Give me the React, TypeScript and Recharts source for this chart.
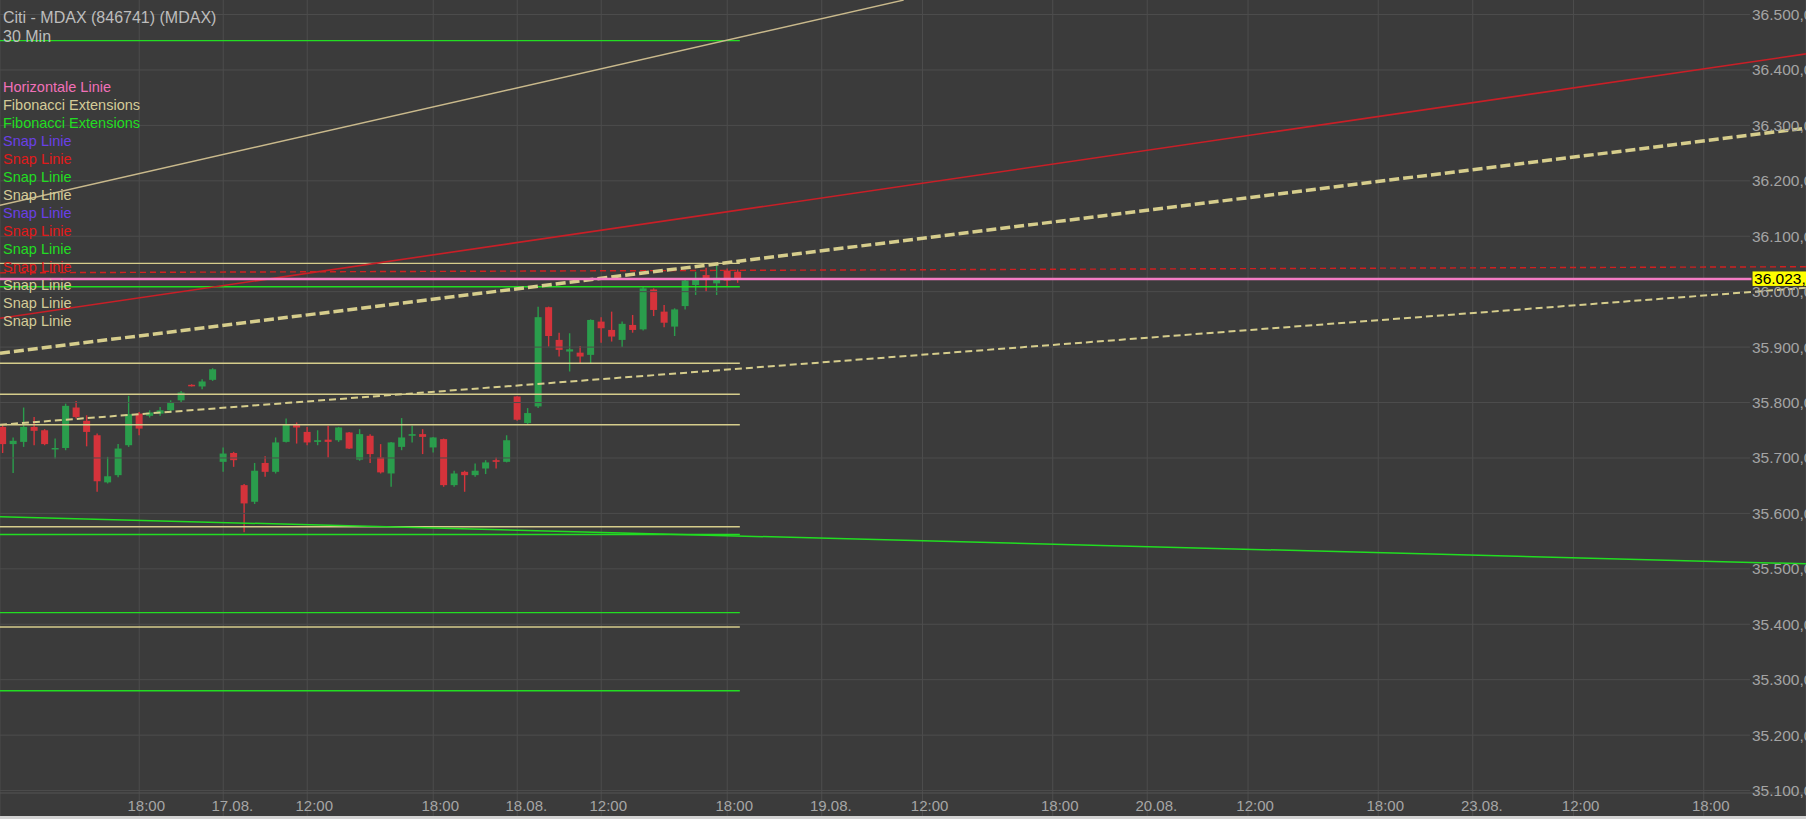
import React from "react"
import { ComposedChart, Bar, Line, XAxis, YAxis, CartesianGrid, ReferenceLine } from "recharts"

// 30-min candles, slot 0 = 16.08. 11:30, slot 21 = 17.08. 08:00, slot 49 = 18.08. 08:00
const opens = [
  35756, 35725, 35729, 35756, 35750, 35716, 35718, 35791, 35767, 35741, 35656, 35669, 35723, 35780, 35776, 35780, 35786, 35804, 35832, 35829, 35841,
  35693, 35709, 35651, 35621, 35691, 35675, 35729, 35761, 35747, 35729, 35733, 35732, 35746, 35697, 35740, 35701, 35672, 35720, 35740, 35743, 35719,
  35734, 35651, 35675, 35669, 35681, 35696, 35693,
  35811, 35763, 35793, 35972, 35913, 35892, 35890, 35886, 35946, 35931, 35913, 35940, 35932, 36004, 35964, 35937, 35974, 36012, 36030, 36015, 36038, 36036,
]
const highs = [
  35760, 35737, 35791, 35774, 35752, 35735, 35798, 35803, 35777, 35744, 35702, 35725, 35812, 35783, 35786, 35792, 35804, 35821, 35833, 35842, 35862,
  35719, 35711, 35653, 35691, 35703, 35737, 35771, 35764, 35756, 35750, 35758, 35756, 35747, 35752, 35743, 35725, 35729, 35772, 35758, 35752, 35738,
  35735, 35677, 35677, 35690, 35696, 35701, 35741,
  35812, 35790, 35973, 35973, 35926, 35925, 35902, 35950, 35954, 35964, 35946, 35958, 36009, 36006, 35976, 35970, 36022, 36036, 36043, 36048, 36042, 36040,
]
const lows = [
  35709, 35673, 35720, 35723, 35723, 35699, 35714, 35771, 35721, 35639, 35654, 35665, 35720, 35741, 35773, 35776, 35782, 35801, 35829, 35824, 35839,
  35675, 35684, 35566, 35617, 35666, 35672, 35728, 35726, 35723, 35723, 35701, 35729, 35716, 35695, 35691, 35672, 35648, 35714, 35728, 35707, 35710,
  35648, 35648, 35639, 35666, 35671, 35681, 35692,
  35767, 35760, 35790, 35901, 35883, 35856, 35871, 35871, 35908, 35910, 35900, 35926, 35930, 35956, 35936, 35920, 35968, 35994, 36000, 35994, 36010, 36016,
]
const closes = [
  35725, 35731, 35756, 35749, 35725, 35718, 35794, 35774, 35747, 35658, 35667, 35717, 35779, 35753, 35782, 35786, 35801, 35818, 35830, 35838, 35860,
  35708, 35696, 35618, 35677, 35675, 35728, 35761, 35755, 35728, 35732, 35729, 35755, 35717, 35743, 35707, 35674, 35728, 35737, 35743, 35738, 35737,
  35651, 35672, 35669, 35677, 35692, 35693, 35732,
  35769, 35781, 35954, 35920, 35895, 35896, 35883, 35949, 35934, 35919, 35942, 35931, 36006, 35967, 35944, 35968, 36020, 36022, 36022, 36025, 36020, 36023,
]

const xTicks = [13, 21, 29, 41, 49, 57, 69, 78, 87.6, 100, 109, 118.6, 131, 140, 149.6, 162]
const xTickLabels = [
  "18:00", "17.08.", "12:00", "18:00", "18.08.", "12:00", "18:00", "19.08.",
  "12:00", "18:00", "20.08.", "12:00", "18:00", "23.08.", "12:00", "18:00",
]
const priceTicks = [35100, 35200, 35300, 35400, 35500, 35600, 35700, 35800, 35900, 36000, 36100, 36200, 36300, 36400, 36500]

// drawings
const lastPrice = 36023
const fibKhakiLevels = [36051, 35871, 35815, 35760, 35576, 35395]
const fibGreenLevels = [36453, 36009, 35562, 35421, 35280]
const fibRange = [-0.26, 70.2]
const snapTan = [[-0.26, 36156], [85.8, 36526]]
const snapRed = [[-0.26, 35952], [171.74, 36429]]
const snapRedDashed = [[-0.26, 36034], [171.74, 36045]]
const snapDashedUpper = [[-0.26, 35889], [171.74, 36295]]
const snapDashedLower = [[-0.26, 35760], [171.74, 36007]]
const snapGreen = [[-0.26, 35594], [171.74, 35509]]

const X_DOMAIN = [-0.26, 171.74]
const Y_DOMAIN = [35054.1, 36526.2]
const GRID_END = 166.4
const LABEL_START = 166.6
const AXIS_FLOOR = 35095.6

const BG = "#3b3b3b"
const GRID = "#4d4d4d"
const UP = "#2a9d4c"
const DOWN = "#d5333b"
const KHAKI = "#d6cd8c"
const TAN = "#c9b98c"
const GREEN = "#22dd22"
const RED = "#c81f27"
const PINK = "#f47cc4"
const FONT = "'Liberation Sans', Arial, sans-serif"
const BODY_W = 7

const candles = opens.map((o, i) => ({ i, o, h: highs[i], l: lows[i], c: closes[i], range: [lows[i], highs[i]] }))
const seg = (pts: number[][]) => pts.map(([i, v]) => ({ i, v }))
const flat = (v: number) => [{ i: fibRange[0], v }, { i: fibRange[1], v }]

const fmt = (v: number) => `${Math.floor(v / 1000)}.${String(v % 1000).padStart(3, "0")},00`

const Candle = (props: any) => {
  const { x, y, width, height, payload } = props
  const { o, h, l, c } = payload
  const color = c >= o ? UP : DOWN
  const k = h === l ? 0 : height / (h - l)
  const top = y + (h - Math.max(o, c)) * k
  const bot = y + (h - Math.min(o, c)) * k
  const cx = x + width / 2
  return (
    <g>
      <line x1={cx} x2={cx} y1={y} y2={y + height} stroke={color} strokeWidth={1.4} />
      <rect x={cx - BODY_W / 2} y={top} width={BODY_W} height={Math.max(1.5, bot - top)} fill={color} />
    </g>
  )
}

const XTick = (props: any) => {
  const { x, payload } = props
  const idx = xTicks.indexOf(payload.value)
  return (
    <text x={x - 11.7} y={810.5} fill="#a6a6a6" fontSize={15} fontFamily={FONT}>
      {xTickLabels[idx]}
    </text>
  )
}

const YTick = (props: any) => {
  const { y, payload } = props
  return (
    <text x={1752} y={y + 5.5} fill="#a4a4a4" fontSize={15.5} fontFamily={FONT}>
      {fmt(payload.value)}
    </text>
  )
}

const PriceBox = (props: any) => {
  const vb = props.viewBox || {}
  const x = vb.x + vb.width
  const y = vb.y
  return (
    <g>
      <rect x={x} y={y - 8} width={60} height={15.5} fill="#ffff00" stroke="#333" strokeWidth={1} />
      <text x={x + 2} y={y + 5} fill="#000" fontSize={15.5} fontFamily={FONT}>
        {fmt(lastPrice)}
      </text>
    </g>
  )
}

const legendRows = [
  { t: "Horizontale Linie", c: "#f070b8" },
  { t: "Fibonacci Extensions", c: "#d4cb98" },
  { t: "Fibonacci Extensions", c: "#22dd22" },
  { t: "Snap Linie", c: "#6a40e6" },
  { t: "Snap Linie", c: "#e01a1a" },
  { t: "Snap Linie", c: "#22dd22" },
  { t: "Snap Linie", c: "#d4cb98" },
  { t: "Snap Linie", c: "#6a40e6" },
  { t: "Snap Linie", c: "#e01a1a" },
  { t: "Snap Linie", c: "#22dd22" },
  { t: "Snap Linie", c: "#e01a1a" },
  { t: "Snap Linie", c: "#d4cb98" },
  { t: "Snap Linie", c: "#d4cb98" },
  { t: "Snap Linie", c: "#d4cb98" },
]

export default function App() {
  return (
    <div style={{ position: "absolute", left: 0, top: 0, width: 1806, height: 819, background: "#d2d2d2", overflow: "hidden" }}>
      <ComposedChart width={1806} height={819} data={candles} margin={{ top: 0, right: 0, bottom: 0, left: 0 }}>
        <CartesianGrid horizontal={false} stroke={GRID} fill={BG} />
        <XAxis
          dataKey="i"
          type="number"
          domain={X_DOMAIN}
          allowDataOverflow
          ticks={xTicks}
          interval={0}
          height={3}
          axisLine={false}
          tickLine={false}
          tick={<XTick />}
        />
        <YAxis
          type="number"
          orientation="right"
          mirror
          domain={Y_DOMAIN}
          allowDataOverflow
          ticks={priceTicks}
          interval={0}
          axisLine={false}
          tickLine={false}
          tick={<YTick />}
        />
        {priceTicks.map((p) => (
          <ReferenceLine key={p} segment={[{ x: X_DOMAIN[0], y: p }, { x: GRID_END, y: p }]} stroke={GRID} strokeWidth={1} />
        ))}
        <ReferenceLine y={AXIS_FLOOR} stroke="#555" strokeWidth={1} />

        <Bar dataKey="range" barSize={7} shape={<Candle />} isAnimationActive={false} />

        {fibKhakiLevels.map((v, k) => (
          <Line key={"fk" + k} data={flat(v)} dataKey="v" stroke={KHAKI} strokeWidth={1.4} dot={false} isAnimationActive={false} />
        ))}
        {fibGreenLevels.map((v, k) => (
          <Line key={"fg" + k} data={flat(v)} dataKey="v" stroke={GREEN} strokeWidth={1.4} dot={false} isAnimationActive={false} />
        ))}
        <Line data={seg(snapTan)} dataKey="v" stroke={TAN} strokeWidth={1.5} dot={false} isAnimationActive={false} />
        <Line data={seg(snapRed)} dataKey="v" stroke={RED} strokeWidth={1.6} dot={false} isAnimationActive={false} />
        <Line data={seg(snapGreen)} dataKey="v" stroke={GREEN} strokeWidth={1.5} dot={false} isAnimationActive={false} />
        <Line data={seg(snapRedDashed)} dataKey="v" stroke="#d02020" strokeWidth={1.4} strokeDasharray="6 4" dot={false} isAnimationActive={false} />
        <Line data={seg(snapDashedLower)} dataKey="v" stroke={KHAKI} strokeWidth={2} strokeDasharray="7 4" dot={false} isAnimationActive={false} />
        <Line data={seg(snapDashedUpper)} dataKey="v" stroke={KHAKI} strokeWidth={3.5} strokeDasharray="10 4" dot={false} isAnimationActive={false} />
        <ReferenceLine
          segment={[{ x: X_DOMAIN[0], y: lastPrice }, { x: LABEL_START, y: lastPrice }]}
          stroke={PINK}
          strokeWidth={2.5}
          label={<PriceBox />}
        />
      </ComposedChart>
      <div style={{ position: "absolute", left: 3, top: 8, fontFamily: FONT, fontSize: 16, lineHeight: "19px", color: "#bdbdbd", pointerEvents: "none" }}>
        <div>Citi - MDAX (846741) (MDAX)</div>
        <div>30 Min</div>
      </div>
      <div style={{ position: "absolute", left: 3, top: 78, fontFamily: FONT, fontSize: 14.5, lineHeight: "18px", pointerEvents: "none" }}>
        {legendRows.map((r, k) => (
          <div key={k} style={{ color: r.c }}>{r.t}</div>
        ))}
      </div>
    </div>
  )
}
